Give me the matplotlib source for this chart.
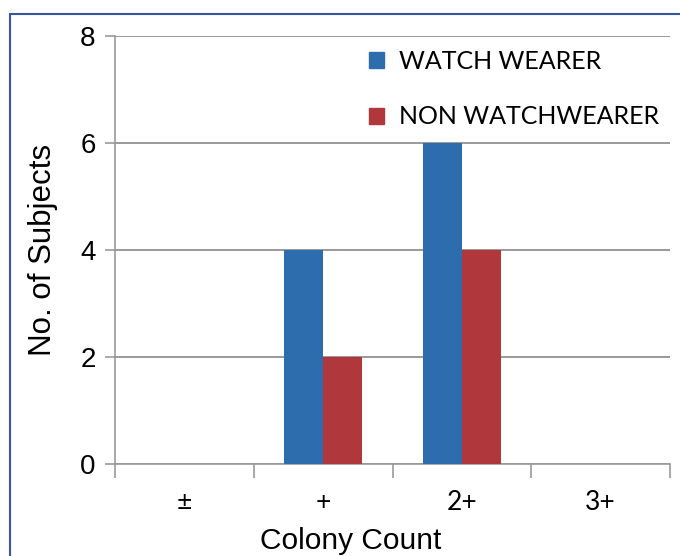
import matplotlib.pyplot as plt
import numpy as np
from matplotlib.patches import Rectangle, Patch

categories = ['±', '+', '2+', '3+']
watch = [0, 4, 6, 0]
non_watch = [0, 2, 4, 0]
labels = ['WATCH WEARER', 'NON WATCHWEARER']
yticks = [0, 2, 4, 6, 8]

blue = '#2E6DAD'
red = '#B0383D'
grey = '#999999'

fig = plt.figure(figsize=(6.8, 5.56), dpi=100)
ax = fig.add_axes([115 / 680, 1 - 464 / 556, 555 / 680, 428 / 556])

# blue frame around the figure (right and bottom edges cut off)
fig.patches.append(Rectangle((10 / 680, -0.5), 3, 1.5 - 14 / 556,
                             transform=fig.transFigure, fill=False,
                             edgecolor='#3557A5', lw=1.5))

x = np.arange(len(categories))
w = 0.28
ax.bar(x - w / 2, watch, w, color=blue, zorder=3)
ax.bar(x + w / 2, non_watch, w, color=red, zorder=3)

ax.set_xlim(-0.5, 3.5)
ax.set_ylim(0, 8)
ax.set_yticks(yticks)
ax.set_yticklabels([str(v) for v in yticks], fontsize=20, family='Liberation Sans')
ax.set_xticks(x)
ax.set_xticklabels(categories, fontsize=19, family='Lato')
ax.set_xticks(np.arange(-0.5, 4, 1), minor=True)
ax.tick_params(axis='x', which='major', length=0, pad=19)
ax.tick_params(axis='x', which='minor', length=10, color=grey, width=1.2)
ax.tick_params(axis='y', length=7, color=grey, width=1.2, pad=7)

ax.grid(axis='y', color=grey, lw=1.4, zorder=0)
for s in ['top', 'right']:
    ax.spines[s].set_visible(False)
for s in ['left', 'bottom']:
    ax.spines[s].set_color(grey)
    ax.spines[s].set_linewidth(1.2)

ax.set_xlabel('Colony Count', fontsize=21.5, family='Liberation Sans')
ax.xaxis.set_label_coords(0.425, -0.148)
ax.set_ylabel('No. of Subjects', fontsize=22.5, family='Liberation Sans', labelpad=16)

handles = [Patch(color=blue), Patch(color=red)]
ax.legend(handles, labels, loc='upper left', bbox_to_anchor=(0.418, 1.02),
          frameon=False, prop={'family': 'Lato', 'size': 18},
          handlelength=0.6, handleheight=0.6, labelspacing=1.3, handletextpad=0.6)

fig.savefig('out.png', dpi=100)
